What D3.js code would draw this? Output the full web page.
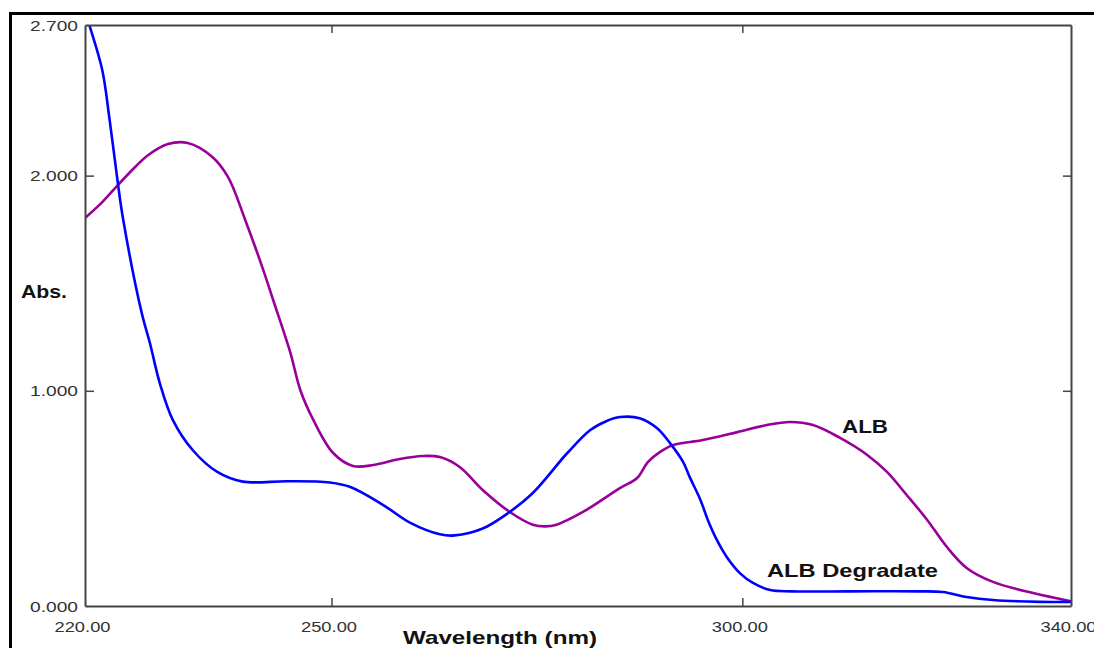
<!DOCTYPE html>
<html>
<head>
<meta charset="utf-8">
<script src="https://cdn.jsdelivr.net/npm/d3@7"></script>
<style>
    html, body { margin: 0; padding: 0; background: #fff; }
    svg { display: block; font-family: 'Liberation Sans', Arial, sans-serif; }
</style>
</head>
<body>
<script>
// wavelength (nm) / absorbance
var albWave = [220.0, 222.1, 224.0, 226.1, 227.7, 230.1, 232.5, 235.5, 237.4, 239.5,
               241.7, 242.9, 245.0, 246.2, 247.8, 250.2, 252.6, 255.1, 258.3, 261.1,
               263.2, 265.6, 268.4, 271.7, 274.5, 276.0, 277.4, 280.6, 285.1, 287.2,
               288.5, 290.0, 291.6, 295.2, 299.4, 303.0, 305.8, 308.6, 311.9, 315.2,
               317.6, 320.0, 322.5, 324.9, 327.3, 330.5, 335.4, 340.0];
var albAbs  = [1.803, 1.877, 1.956, 2.040, 2.096, 2.147, 2.152, 2.087, 1.994, 1.794,
               1.561, 1.422, 1.176, 1.004, 0.864, 0.711, 0.651, 0.655, 0.683, 0.697,
               0.692, 0.646, 0.539, 0.437, 0.378, 0.370, 0.378, 0.437, 0.548, 0.595,
               0.669, 0.716, 0.748, 0.771, 0.808, 0.841, 0.855, 0.841, 0.781, 0.702,
               0.623, 0.516, 0.400, 0.274, 0.177, 0.112, 0.060, 0.022];

var degWave = [220.0, 220.6, 222.1, 223.0, 223.9, 224.6, 226.9, 227.9, 229.1, 230.7,
               233.1, 236.1, 239.2, 244.6, 249.8, 252.3, 256.3, 259.6, 263.2, 265.0,
               268.4, 271.5, 274.5, 278.7, 281.5, 283.5, 285.1, 287.5, 289.6, 291.2,
               292.8, 293.6, 294.9, 295.8, 296.9, 298.1, 299.7, 301.3, 303.4, 306.0,
               313.1, 321.3, 324.4, 327.3, 330.5, 336.2, 340.0];
var degAbs  = [2.760, 2.691, 2.491, 2.258, 1.994, 1.807, 1.362, 1.222, 1.036, 0.864,
               0.725, 0.623, 0.578, 0.580, 0.574, 0.553, 0.469, 0.386, 0.333, 0.328,
               0.360, 0.432, 0.525, 0.711, 0.818, 0.860, 0.878, 0.873, 0.827, 0.757,
               0.669, 0.599, 0.493, 0.400, 0.307, 0.228, 0.153, 0.107, 0.074, 0.068,
               0.068, 0.068, 0.065, 0.042, 0.028, 0.019, 0.019];

var xTicks = [220, 250, 300, 340];
var yTicks = [0, 1, 2, 2.7];
var innerX = [250, 300];
var innerY = [1, 2];

var W = 1094, H = 648,
    L = 85, R = 1071, T = 25, B = 606;

var svg = d3.select('body').append('svg')
    .attr('width', W)
    .attr('height', H);

var x = d3.scaleLinear().domain([220, 340]).range([L, R]);
var y = d3.scaleLinear().domain([0, 2.7]).range([B, T]);

// outer page frame
svg.append('path')
    .attr('d', 'M' + [10.5, H] + ' L' + [10.5, 13.5] + ' L' + [W, 13.5])
    .attr('fill', 'none')
    .attr('stroke', '#000')
    .attr('stroke-width', 3);

svg.append('clipPath').attr('id', 'plot')
  .append('rect')
    .attr('x', L).attr('y', T)
    .attr('width', R - L).attr('height', B - T);

var line = d3.line()
    .x(function(d) { return x(d[0]); })
    .y(function(d) { return y(d[1]); })
    .curve(d3.curveCatmullRom.alpha(0.5));

svg.append('path')
    .datum(d3.zip(albWave, albAbs))
    .attr('clip-path', 'url(#plot)')
    .attr('d', line)
    .attr('fill', 'none')
    .attr('stroke', '#990099')
    .attr('stroke-width', 2.6);

svg.append('path')
    .datum(d3.zip(degWave, degAbs))
    .attr('clip-path', 'url(#plot)')
    .attr('d', line)
    .attr('fill', 'none')
    .attr('stroke', '#0000ff')
    .attr('stroke-width', 2.6);

function styleAxis(g) {
    g.select('.domain').attr('stroke', '#444').attr('stroke-width', 2);
    g.selectAll('.tick line').attr('stroke', '#444').attr('stroke-width', 1.5);
}

var bottom = svg.append('g')
    .attr('transform', 'translate(0,' + B + ')')
    .call(d3.axisBottom(x).tickValues(xTicks).tickFormat(d3.format('.2f'))
        .tickSizeInner(-8).tickSizeOuter(0))
    .call(styleAxis);
bottom.selectAll('.tick line').filter(function(d) { return innerX.indexOf(d) < 0; }).remove();
bottom.selectAll('.tick text')
    .attr('x', -3).attr('y', 26).attr('dy', 0)
    .attr('font-size', 14).attr('fill', '#333')
    .attr('textLength', 56).attr('lengthAdjust', 'spacingAndGlyphs');

svg.append('g')
    .attr('transform', 'translate(0,' + T + ')')
    .call(d3.axisTop(x).tickValues(innerX).tickFormat('')
        .tickSizeInner(-8).tickSizeOuter(0))
    .call(styleAxis);

var left = svg.append('g')
    .attr('transform', 'translate(' + L + ',0)')
    .call(d3.axisLeft(y).tickValues(yTicks).tickFormat(d3.format('.3f'))
        .tickSizeInner(-9).tickSizeOuter(0))
    .call(styleAxis);
left.selectAll('.tick line').filter(function(d) { return innerY.indexOf(d) < 0; }).remove();
left.selectAll('.tick text')
    .attr('x', -7).attr('dy', '0.36em')
    .attr('font-size', 14).attr('fill', '#333')
    .attr('textLength', 48).attr('lengthAdjust', 'spacingAndGlyphs');

svg.append('g')
    .attr('transform', 'translate(' + R + ',0)')
    .call(d3.axisRight(y).tickValues(innerY).tickFormat('')
        .tickSizeInner(-8).tickSizeOuter(0))
    .call(styleAxis);

// titles and curve labels
var labels = [
    ['Abs.', 21, 298, 46],
    ['Wavelength (nm)', 403, 644, 194],
    ['ALB', 842, 433, 46],
    ['ALB Degradate', 767, 577, 171]
];

labels.map(function(d) {
    svg.append('text')
        .attr('x', d[1])
        .attr('y', d[2])
        .attr('font-size', 19)
        .attr('font-weight', 'bold')
        .attr('fill', '#111')
        .attr('textLength', d[3])
        .attr('lengthAdjust', 'spacingAndGlyphs')
        .text(d[0]);
});
</script>
</body>
</html>
